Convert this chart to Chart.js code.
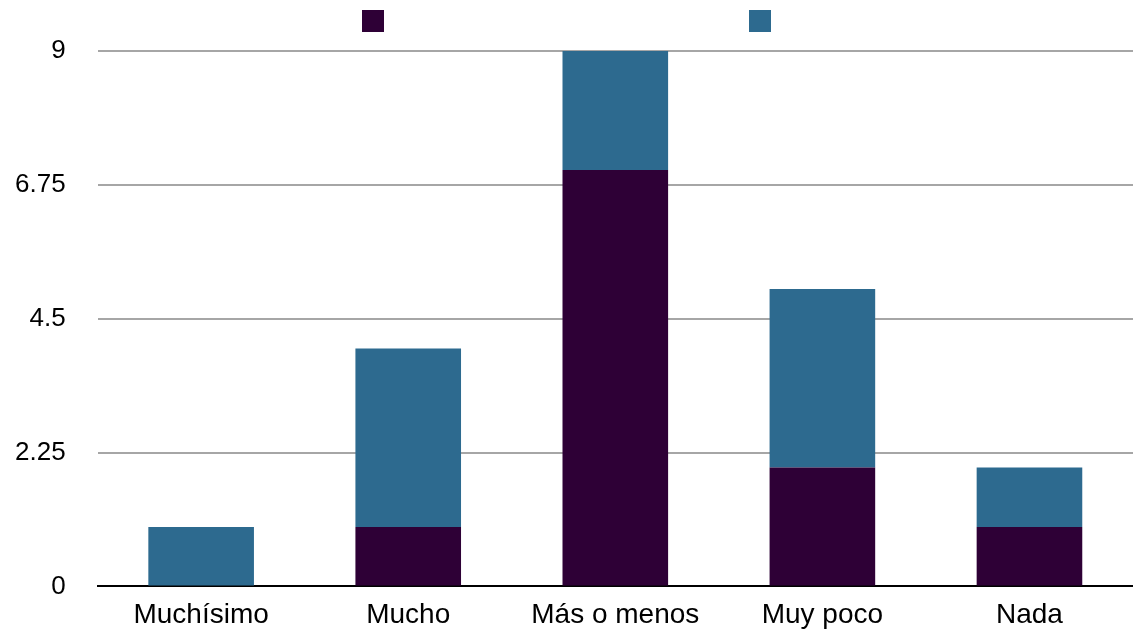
<!DOCTYPE html>
<html>
<head>
<meta charset="utf-8">
<script src="https://cdn.jsdelivr.net/npm/chart.js@4"></script>
<style>
    html, body { margin: 0; padding: 0; background: #fff; }
    #wrap { width: 1133px; height: 634px; }
</style>
</head>
<body>
<div id="wrap"><canvas id="myChart"></canvas></div>
<script>
"use strict"

const categories = ["Muchísimo", "Mucho", "Más o menos", "Muy poco", "Nada"];
const serie1 = [0, 1, 7, 2, 1];
const serie2 = [1, 3, 2, 3, 1];
const yTicks = [0, 2.25, 4.5, 6.75, 9];
const colors = ["#2e0036", "#2d6a8f"];

// legend with only the colour boxes, no text
const boxLegend = {
    id: "boxLegend",
    afterDraw(chart) {
        const c = chart.ctx;
        const mid = chart.width / 2;
        const size = 22;
        const gap = 387;
        chart.data.datasets.forEach((ds, i) => {
            const x = mid - gap / 2 + i * gap - size / 2;
            c.save();
            c.fillStyle = ds.backgroundColor;
            c.fillRect(x, 10, size, size);
            c.restore();
        });
    }
};

const ctx = document.getElementById("myChart").getContext("2d");

new Chart(ctx, {
    type: "bar",
    data: {
        labels: categories,
        datasets: [{
            label: "Serie 1",
            data: serie1,
            backgroundColor: colors[0]
        }, {
            label: "Serie 2",
            data: serie2,
            backgroundColor: colors[1]
        }]
    },
    options: {
        responsive: true,
        maintainAspectRatio: false,
        animation: false,
        layout: { padding: { left: -17, right: -4, top: 51, bottom: -12 } },
        datasets: {
            bar: { categoryPercentage: 0.51, barPercentage: 1 }
        },
        scales: {
            x: {
                stacked: true,
                grid: { display: false, drawTicks: false },
                border: { display: true, color: "#000", width: 2 },
                ticks: {
                    padding: 12,
                    color: "#000",
                    font: { family: "'Liberation Sans', Arial, sans-serif", size: 28 }
                }
            },
            y: {
                stacked: true,
                min: 0,
                max: 9,
                afterBuildTicks: (axis) => {
                    axis.ticks = yTicks.map(v => ({ value: v }));
                },
                grid: { color: "#a6a6a6", lineWidth: 2, drawTicks: false },
                border: { display: false },
                ticks: {
                    padding: 32,
                    color: "#000",
                    font: { family: "'Liberation Sans', Arial, sans-serif", size: 26 },
                    callback: (v) => String(v)
                }
            }
        },
        plugins: {
            legend: { display: false },
            tooltip: { enabled: false }
        }
    },
    plugins: [boxLegend]
});
</script>
</body>
</html>
